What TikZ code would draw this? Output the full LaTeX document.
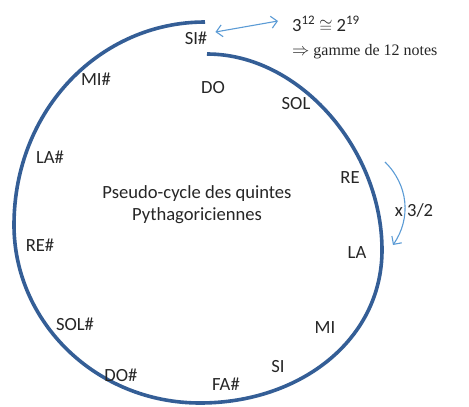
\documentclass[tikz,border=0pt]{standalone}
\usepackage{fontspec}
\setmainfont{Carlito}
\newfontfamily\notefont{Liberation Serif}
\usetikzlibrary{arrows.meta}
\definecolor{cycleblue}{RGB}{52,94,150}
\definecolor{arrowblue}{RGB}{91,155,213}
\tikzstyle{notenode} = [inner sep=0pt, text=black!85, font=\fontsize{18.6}{22}\selectfont]
\tikzstyle{cyclepath} = [draw=cycleblue, line width=3.6pt]
\tikzstyle{thinarrow} = [draw=arrowblue, line width=1.1pt]

\begin{document}
\begin{tikzpicture}[x=1pt, y=-1pt]
    \useasboundingbox (0,0) rectangle (469,407);
    \draw[cyclepath] (205,22) .. controls (100,22) and (14,110) .. (14,225)
        .. controls (14,322) and (96,403) .. (200,403)
        .. controls (300,403) and (382,340) .. (382,250)
        .. controls (382,150) and (300,54) .. (207,54);

    \node[notenode] (note_si_sharp) at (196,38) {SI\#};
    \node[notenode] (note_do) at (213,88) {DO};
    \node[notenode] (note_sol) at (296,104) {SOL};
    \node[notenode] (note_re) at (350,178) {RE};
    \node[notenode] (note_la) at (357,253) {LA};
    \node[notenode] (note_mi) at (325,328) {MI};
    \node[notenode] (note_si) at (278,367) {SI};
    \node[notenode] (note_fa_sharp) at (226,384) {FA\#};
    \node[notenode] (note_do_sharp) at (121,375) {DO\#};
    \node[notenode] (note_sol_sharp) at (75,324) {SOL\#};
    \node[notenode] (note_re_sharp) at (40,245) {RE\#};
    \node[notenode] (note_la_sharp) at (50,157) {LA\#};
    \node[notenode] (note_mi_sharp) at (96,79) {MI\#};

    \node[notenode, align=center] (cycle_title) at (197,205) {Pseudo-cycle des quintes\\Pythagoriciennes};
    \node[notenode] (fifth_ratio) at (414,210) {x 3/2};
    \node[notenode, anchor=west] (comma_eq) at (292,24) {3\raisebox{0.42em}{\fontsize{13}{13}\selectfont 12} $\cong$ 2\raisebox{0.42em}{\fontsize{13}{13}\selectfont 19}};
    \node[inner sep=0pt, anchor=west, text=black!85, font=\notefont\fontsize{16}{18}\selectfont] (comma_note) at (292,52) {$\Rightarrow$ gamme de 12 notes};

    \coordinate (fifth_from) at (385,162);
    \coordinate (fifth_to) at (393,245);
    \draw[thinarrow, {Straight Barb[length=6pt,width=12pt]}-{Straight Barb[length=6pt,width=12pt]}] ([xshift=8pt,yshift=6pt]note_si_sharp.east) -- ([xshift=-14pt,yshift=3pt]comma_eq.west);
    \draw[thinarrow, -{Straight Barb[length=6pt,width=12pt]}] (fifth_from) to[bend left=40] (fifth_to);
\end{tikzpicture}
\end{document}
